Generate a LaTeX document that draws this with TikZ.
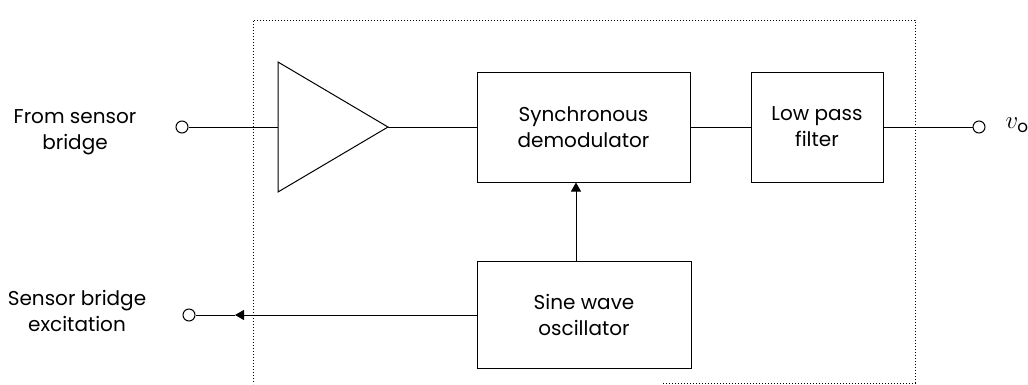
\documentclass[tikz,border=0pt]{standalone}
\usepackage{fontspec}
\setmainfont{Poppins}
\usetikzlibrary{arrows.meta}
\begin{document}
\begin{tikzpicture}[x=1pt,y=-1pt,line width=1pt,
  blockbox/.style={draw,rectangle,inner sep=0pt,align=center,font=\fontsize{20}{26}\selectfont},
  term/.style={draw,circle,minimum size=12pt,inner sep=0pt,fill=white},
  lbl/.style={align=center,inner sep=0pt,font=\fontsize{20}{26}\selectfont},
  border/.style={line width=1pt,dash pattern=on 1pt off 2pt},
  tip/.style={-{Triangle[length=9pt,width=10pt]}}]
\useasboundingbox (0,0) rectangle (1028,384);
% dotted enclosure
\draw[border] (663,383) -- (915,383) -- (915,20) -- (253,20) -- (253,384);
% blocks
\node[blockbox,minimum width=213pt,minimum height=110pt] (demod) at (583.5,127) {Synchronous\\demodulator};
\node[blockbox,minimum width=132pt,minimum height=110pt] (lpf) at (817,127) {Low pass\\filter};
\node[blockbox,minimum width=214pt,minimum height=107pt] (osc) at (584,314.5) {Sine wave\\oscillator};
% amplifier
\coordinate (ampT) at (278,62);
\coordinate (ampB) at (278,192);
\coordinate (ampO) at (388,127);
\coordinate (ampI) at (278,127);
\draw (ampT) -- (ampO) -- (ampB) -- cycle;
% terminals
\node[term] (inL) at (182,127) {};
\node[term] (outR) at (979,127) {};
\node[term] (exc) at (189,315) {};
\node[anchor=west,inner sep=0pt,font=\fontsize{24}{26}\selectfont] (vo) at (1005,125) {$v_{\mathrm{o}}$};
% labels
\node[lbl] (fromlbl) at (75,132) {From sensor\\bridge};
\node[lbl] (exclbl) at (77,311) {Sensor bridge\\excitation};
% connectors
\draw (inL) -- (ampI);
\draw (ampO) -- (demod.west);
\draw (demod.east) -- (lpf.west);
\draw (lpf.east) -- (outR);
\coordinate (vx) at (576,0);
\draw[tip] (osc.north -| vx) -- (demod.south -| vx);
\coordinate (exarrow) at (235,315);
\draw[tip] (osc.west |- exarrow) -- (exarrow);
\draw (exarrow) -- (exc);
\end{tikzpicture}
\end{document}
